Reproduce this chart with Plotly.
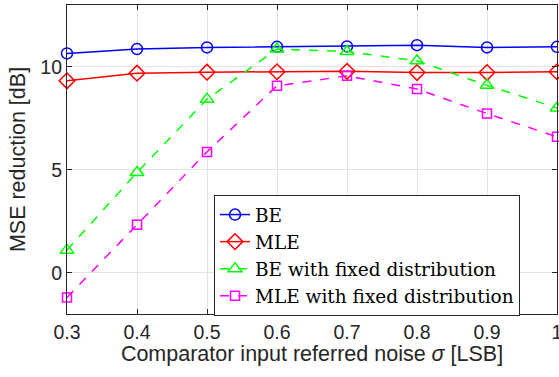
import plotly.graph_objects as go

sigma = [0.3, 0.4, 0.5, 0.6, 0.7, 0.8, 0.9, 1.0]
be = [10.65, 10.86, 10.94, 10.97, 10.99, 11.05, 10.94, 10.97]
mle = [9.32, 9.69, 9.74, 9.76, 9.78, 9.72, 9.72, 9.76]
be_fixed = [1.1, 4.87, 8.43, 10.86, 10.74, 10.29, 9.1, 8.0]
mle_fixed = [-1.2, 2.33, 5.87, 9.08, 9.56, 8.92, 7.73, 6.6]

series = [
    ("BE", be, "#0000FF", "solid", "circle-open", 11),
    ("MLE", mle, "#FF0000", "solid", "diamond-open", 12),
    ("BE with fixed distribution", be_fixed, "#00FF00", "dash", "triangle-up-open", 12),
    ("MLE with fixed distribution", mle_fixed, "#FF00FF", "dash", "square-open", 9),
]

fig = go.Figure()
for name, vals, color, dash, sym, msize in series:
    fig.add_trace(go.Scatter(
        x=sigma, y=vals, name=name, mode="lines+markers",
        line=dict(color=color, width=1.5, dash=dash),
        marker=dict(symbol=sym, size=msize, color=color, line=dict(width=1.5, color=color)),
        cliponaxis=False,
    ))

sans = "Liberation Sans, Arial, sans-serif"
axis_common = dict(
    showline=True, linecolor="#262626", linewidth=1.2, mirror="ticks",
    ticks="inside", ticklen=5, tickcolor="#262626",
    showgrid=True, gridcolor="#E3E3E3", gridwidth=1, zeroline=False,
    tickfont=dict(family=sans, size=19.5, color="#262626"),
    ticklabeloverflow="allow",
)

fig.update_layout(
    width=559, height=377,
    margin=dict(l=67, r=2, t=5, b=63),
    paper_bgcolor="white", plot_bgcolor="white",
    xaxis=dict(range=[0.3, 1.0], tickvals=[0.3, 0.4, 0.5, 0.6, 0.7, 0.8, 0.9, 1.0],
               ticktext=["0.3", "0.4", "0.5", "0.6", "0.7", "0.8", "0.9", "1"],
               title=dict(text="Comparator input referred noise <i>σ</i> [LSB]",
                          font=dict(family=sans, size=21.5, color="#262626"),
                          standoff=4),
               automargin=False,
               **axis_common),
    yaxis=dict(range=[-2, 13], tickvals=[0, 5, 10],
               title=dict(text="MSE reduction [dB]",
                          font=dict(family=sans, size=21.5, color="#262626"),
                          standoff=8),
               automargin=False,
               **axis_common),
    legend=dict(x=0.3, y=0.385, xanchor="left", yanchor="top",
                bgcolor="white", bordercolor="#262626", borderwidth=1,
                font=dict(family="DejaVu Serif, Liberation Serif, serif", size=18.5, color="black"),
                tracegroupgap=0, itemwidth=30),
    showlegend=True,
)

fig.write_html("out.html")
